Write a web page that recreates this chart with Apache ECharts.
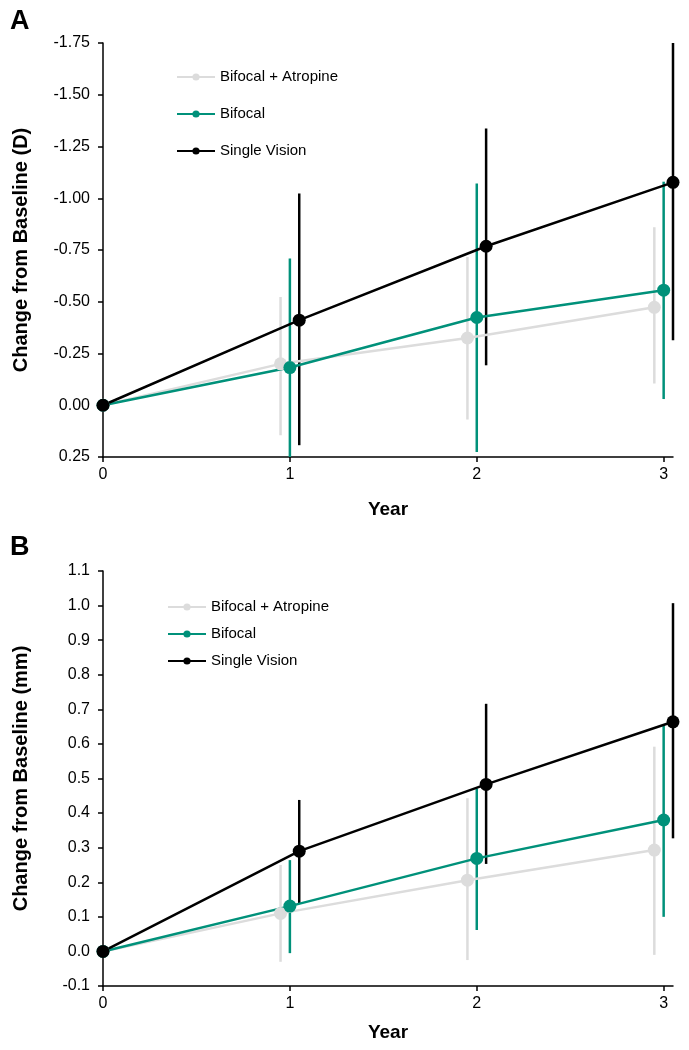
<!DOCTYPE html>
<html>
<head>
<meta charset="utf-8">
<script src="https://cdn.jsdelivr.net/npm/echarts@6/dist/echarts.min.js"></script>
<style>
  html, body { margin: 0; padding: 0; background: #fff; }
  #chart { width: 689px; height: 1050px; }
</style>
</head>
<body>
<div id="chart"></div>
<script>
// ---------- data ----------
const years = [0, 1, 2, 3];
const seriesNames = ['Bifocal + Atropine', 'Bifocal', 'Single Vision'];
const xTickLabels = [0, 1, 2, 3];

// Panel A: refraction change (D)
const refrAtropineMean = [0, -0.200, -0.325, -0.473];
const refrAtropineTop  = [0, -0.523, -0.716, -0.860];
const refrAtropineBot  = [0,  0.145,  0.069, -0.105];
const refrBifocalMean  = [0, -0.182, -0.424, -0.556];
const refrBifocalTop   = [0, -0.709, -1.071, -1.080];
const refrBifocalBot   = [0,  0.345,  0.226, -0.030];
const refrSingleMean   = [0, -0.411, -0.768, -1.077];
const refrSingleTop    = [0, -1.023, -1.337, -1.750];
const refrSingleBot    = [0,  0.193, -0.193, -0.314];

// Panel B: axial length change (mm)
const axlAtropineMean = [0, 0.110, 0.206, 0.293];
const axlAtropineTop  = [0, 0.250, 0.443, 0.592];
const axlAtropineBot  = [0, -0.030, -0.025, -0.010];
const axlBifocalMean  = [0, 0.131, 0.269, 0.380];
const axlBifocalTop   = [0, 0.264, 0.471, 0.655];
const axlBifocalBot   = [0, -0.005, 0.062, 0.100];
const axlSingleMean   = [0, 0.290, 0.483, 0.664];
const axlSingleTop    = [0, 0.438, 0.716, 1.007];
const axlSingleBot    = [0, 0.137, 0.253, 0.327];

// ---------- styling ----------
const colors = ['#dcdcdc', '#00917a', '#000000'];
const dodge = [-0.05, 0, 0.05];
const FONT = 'Liberation Sans, Arial, Helvetica, sans-serif';

function xPos(i, k) { return years[i] + (years[i] === 0 ? 0 : dodge[k]); }

function lineSeries(k, mean, gi) {
  return {
    type: 'line', name: seriesNames[k], xAxisIndex: gi, yAxisIndex: gi,
    data: mean.map((v, i) => [xPos(i, k), v]),
    symbol: 'circle', symbolSize: 13, showSymbol: true,
    lineStyle: { color: colors[k], width: 2.5 },
    itemStyle: { color: colors[k] },
    emphasis: { disabled: true }, z: 3, clip: false
  };
}
function errSeries(k, top, bot, gi) {
  const d = [];
  for (let i = 0; i < years.length; i++) {
    if (top[i] === bot[i]) continue;
    d.push([xPos(i, k), bot[i], top[i]]);
  }
  return {
    type: 'custom', name: seriesNames[k] + ' err', xAxisIndex: gi, yAxisIndex: gi,
    data: d, clip: false, z: 3, silent: true,
    encode: { x: 0, y: [1, 2] },
    renderItem: function (params, api) {
      const a = api.coord([api.value(0), api.value(1)]);
      const b = api.coord([api.value(0), api.value(2)]);
      const cs = params.coordSys;
      const lo = cs.y, hi = cs.y + cs.height;
      const clamp = v => Math.max(lo, Math.min(hi, v));
      return {
        type: 'line',
        shape: { x1: a[0], y1: clamp(a[1]), x2: b[0], y2: clamp(b[1]) },
        style: { stroke: colors[k], lineWidth: 2.5 }
      };
    }
  };
}

function xAxis(gi, gap) {
  return {
    type: 'value', gridIndex: gi, min: 0, max: 3.05,
    name: 'Year', nameLocation: 'middle', nameGap: gap,
    nameTextStyle: { fontFamily: FONT, fontWeight: 'bold', fontSize: 19, color: '#000' },
    axisLine: { show: true, onZero: false, lineStyle: { color: '#000', width: 1.5 } },
    axisTick: { show: true, length: 5, customValues: xTickLabels, lineStyle: { color: '#000', width: 1.5 } },
    axisLabel: { customValues: xTickLabels, fontFamily: FONT, fontSize: 16, color: '#000', margin: 10 },
    splitLine: { show: false }
  };
}

function yAxis(gi, opts) {
  return Object.assign({
    type: 'value', gridIndex: gi, nameLocation: 'middle', nameGap: 72,
    nameTextStyle: { fontFamily: FONT, fontWeight: 'bold', fontSize: 20, color: '#000' },
    axisLine: { show: true, onZero: false, lineStyle: { color: '#000', width: 1.5 } },
    axisTick: { show: true, length: 5, lineStyle: { color: '#000', width: 1.5 } },
    splitLine: { show: false }
  }, opts);
}

const option = {
  animation: false,
  backgroundColor: '#fff',
  graphic: [
    { type: 'text', left: 10, top: 8, style: { text: 'A', font: 'bold 27px ' + FONT, fill: '#000' } },
    { type: 'text', left: 10, top: 534, style: { text: 'B', font: 'bold 27px ' + FONT, fill: '#000' } }
  ],
  grid: [
    { left: 103, top: 43, width: 570, height: 414 },
    { left: 103, top: 571, width: 570, height: 415 }
  ],
  legend: [
    { data: seriesNames, orient: 'vertical', left: 176, top: 69, padding: 0, itemWidth: 38, itemHeight: 9, itemGap: 21,
      textStyle: { fontFamily: FONT, fontSize: 15, color: '#000', lineHeight: 16 }, selectedMode: false },
    { data: seriesNames, orient: 'vertical', left: 167, top: 599, padding: 0, itemWidth: 38, itemHeight: 9, itemGap: 11,
      textStyle: { fontFamily: FONT, fontSize: 15, color: '#000', lineHeight: 16 }, selectedMode: false }
  ],
  xAxis: [xAxis(0, 43), xAxis(1, 37)],
  yAxis: [
    yAxis(0, {
      inverse: true, min: -1.75, max: 0.25, interval: 0.25,
      name: 'Change from Baseline (D)',
      axisLabel: { fontFamily: FONT, fontSize: 16, color: '#000', margin: 13, formatter: v => v.toFixed(2) }
    }),
    yAxis(1, {
      min: -0.1, max: 1.1, interval: 0.1,
      name: 'Change from Baseline (mm)',
      axisLabel: { fontFamily: FONT, fontSize: 16, color: '#000', margin: 13, formatter: v => v.toFixed(1) }
    })
  ],
  series: [
    errSeries(0, refrAtropineTop, refrAtropineBot, 0), lineSeries(0, refrAtropineMean, 0),
    errSeries(1, refrBifocalTop, refrBifocalBot, 0), lineSeries(1, refrBifocalMean, 0),
    errSeries(2, refrSingleTop, refrSingleBot, 0), lineSeries(2, refrSingleMean, 0),
    errSeries(0, axlAtropineTop, axlAtropineBot, 1), lineSeries(0, axlAtropineMean, 1),
    errSeries(1, axlBifocalTop, axlBifocalBot, 1), lineSeries(1, axlBifocalMean, 1),
    errSeries(2, axlSingleTop, axlSingleBot, 1), lineSeries(2, axlSingleMean, 1)
  ]
};

const chart = echarts.init(document.getElementById('chart'), null, { renderer: 'canvas' });
chart.setOption(option);
</script>
</body>
</html>
